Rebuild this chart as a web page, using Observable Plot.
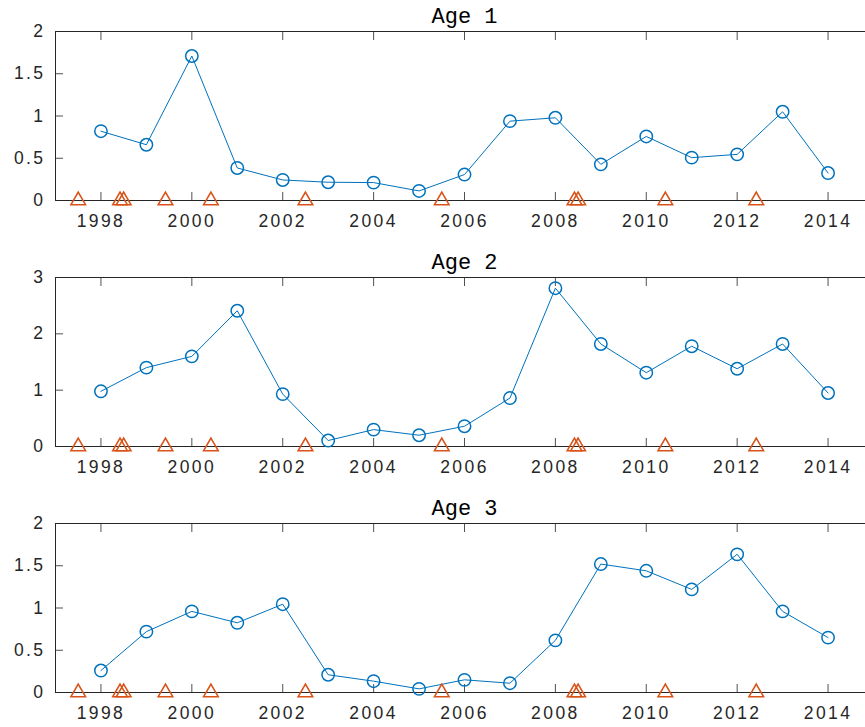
<!DOCTYPE html>
<html>
<head>
<meta charset="utf-8">
<script src="https://cdn.jsdelivr.net/npm/d3@7"></script>
<script src="https://cdn.jsdelivr.net/npm/@observablehq/plot@0.6"></script>
<style>
  html, body { margin: 0; padding: 0; background: #fff; overflow: hidden; width: 865px; height: 727px; }
  #wrap { width: 865px; overflow: hidden; }
  #wrap svg { display: block; max-width: none !important; width: 880px; height: 246px; }
  .tl text { letter-spacing: 2.4px; }
</style>
</head>
<body>
<div id="wrap"></div>
<script>
const years = [1998,1999,2000,2001,2002,2003,2004,2005,2006,2007,2008,2009,2010,2011,2012,2013,2014];
const age1 = [0.82,0.66,1.71,0.385,0.243,0.216,0.212,0.113,0.307,0.939,0.979,0.428,0.758,0.507,0.546,1.05,0.325];
const age2 = [0.98,1.40,1.60,2.41,0.93,0.106,0.30,0.20,0.36,0.86,2.81,1.82,1.31,1.78,1.38,1.82,0.95];
const age3 = [0.26,0.72,0.96,0.825,1.045,0.21,0.134,0.043,0.15,0.11,0.617,1.52,1.44,1.22,1.635,0.96,0.65];
const surveyTimes = [1997.5,1998.42,1998.5,1999.42,2000.42,2002.5,2005.5,2008.42,2008.5,2010.42,2012.42];
const xTicks = [1998,2000,2002,2004,2006,2008,2010,2012,2014];
const titles = ["Age 1","Age 2","Age 3"];
const yDomains = [[0,2],[0,3],[0,2]];
const yTicksList = [[0,0.5,1,1.5,2],[0,1,2,3],[0,0.5,1,1.5,2]];
const series = [age1, age2, age3];

const blue = "#0072BD", orange = "#D95319", axisColor = "#262626";
const wrap = document.getElementById("wrap");

series.forEach((vals, i) => {
  const data = years.map((y, j) => ({year: y, value: vals[j]}));
  const tri = surveyTimes.map(t => ({t, v: 0}));
  const yt = yTicksList[i];
  const svg = Plot.plot({
    width: 880,
    height: 246,
    marginLeft: 55,
    marginRight: 7,
    marginTop: 31,
    marginBottom: 46,
    style: {fontFamily: "'Liberation Sans', Arial, sans-serif", fontSize: "17px", color: axisColor, background: "#fff", maxWidth: "none", overflow: "visible"},
    x: {domain: [1997, 2015]},
    y: {domain: yDomains[i]},
    marks: [
      Plot.axisX({anchor: "bottom", ticks: xTicks, tickSize: -8, text: null, stroke: axisColor, strokeOpacity: 0.8}),
      Plot.axisX({anchor: "top", ticks: xTicks, tickSize: -8, text: null, stroke: axisColor, strokeOpacity: 0.8}),
      Plot.axisX({anchor: "bottom", ticks: xTicks, tickSize: 0, tickPadding: 14, tickFormat: d => String(d), fill: axisColor, className: "tl", fontSize: 17.5}),
      Plot.axisY({anchor: "left", ticks: yt, tickSize: -8, text: null, stroke: axisColor, strokeOpacity: 0.8}),
      Plot.axisY({anchor: "right", ticks: yt, tickSize: -8, text: null, stroke: axisColor, strokeOpacity: 0.8}),
      Plot.axisY({anchor: "left", ticks: yt, tickSize: 0, tickPadding: 10, tickFormat: d => String(d), fill: axisColor, className: "tl", fontSize: 17.5}),
      Plot.frame({stroke: axisColor, strokeWidth: 1}),
      Plot.line(data, {x: "year", y: "value", stroke: blue, strokeWidth: 1}),
      Plot.dot(data, {x: "year", y: "value", r: 6.2, stroke: blue, strokeWidth: 1.5, fill: "none"}),
      Plot.dot(tri, {x: "t", y: "v", symbol: "triangle", r: 5.4, stroke: orange, strokeWidth: 1.6, fill: "none"}),
      Plot.text([titles[i]], {frameAnchor: "top", lineAnchor: "bottom", dy: -9, text: d => d,
        fontFamily: "'Liberation Mono', 'Courier New', monospace", fontSize: 22, fill: "#000"})
    ]
  });
  wrap.appendChild(svg);
});
</script>
</body>
</html>
